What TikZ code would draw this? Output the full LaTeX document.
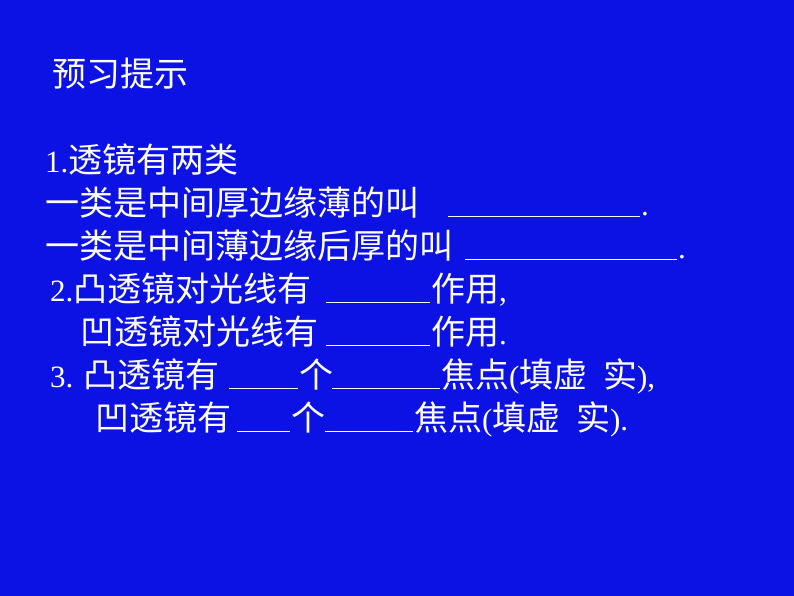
\documentclass[tikz,border=0pt]{standalone}
\usepackage{fontspec}
\setmainfont{Liberation Serif}
\newfontfamily\cjkf{Noto Sans CJK SC}
\newcommand{\cjk}{\cjkf\fontsize{34}{38}\selectfont}
\definecolor{bg}{RGB}{12,18,228}
\begin{document}
\begin{tikzpicture}[x=1pt,y=-1pt,
  t/.style={anchor=base west,inner sep=0pt,text=white,font=\fontsize{31}{36}\selectfont},
  bl/.style={white,line width=1pt}]
\fill[bg] (0,0) rectangle (794,596);
\node[t] (h) at (52,87) {\cjk 预习提示};
\node[t] (l1) at (45,172) {1.{\cjk 透镜有两类}};
\node[t] (l2) at (45,215) {\cjk 一类是中间厚边缘薄的叫};
\draw[bl] (448,216) -- (640,216); \node[t] (p2) at (641,215) {.};
\node[t] (l3) at (45,258) {\cjk 一类是中间薄边缘后厚的叫};
\draw[bl] (465,259) -- (677,259); \node[t] (p3) at (678,258) {.};
\node[t] (l4) at (50,301) {2.{\cjk 凸透镜对光线有}};
\draw[bl] (326,302) -- (430,302); \node[t] (e4) at (431,301) {{\cjk 作用},};
\node[t] (l5) at (80,344) {\cjk 凹透镜对光线有};
\draw[bl] (326,345) -- (430,345); \node[t] (e5) at (431,344) {{\cjk 作用}.};
\node[t] (l6) at (50,387) {3. {\cjk 凸透镜有}};
\draw[bl] (229,388) -- (298,388); \node[t] (g6) at (299,387) {\cjk 个};
\draw[bl] (332,388) -- (440,388); \node[t] (e6) at (441,387) {{\cjk 焦点}({\cjk 填虚}\ \ {\cjk 实}),};
\node[t] (l7) at (95,430) {\cjk 凹透镜有};
\draw[bl] (237,431) -- (290,431); \node[t] (g7) at (291,430) {\cjk 个};
\draw[bl] (325,431) -- (413,431); \node[t] (e7) at (414,430) {{\cjk 焦点}({\cjk 填虚}\ \ {\cjk 实}).};
\end{tikzpicture}
\end{document}
